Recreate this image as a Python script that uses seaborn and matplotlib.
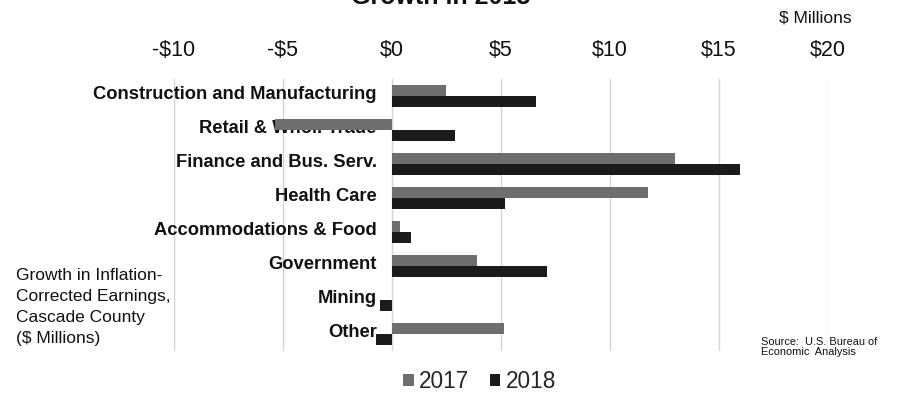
import numpy as np
import pandas as pd
import matplotlib
matplotlib.use("Agg")
import matplotlib.pyplot as plt
import seaborn as sns

categories = [
    "Construction and Manufacturing",
    "Retail & Whol. Trade",
    "Finance and Bus. Serv.",
    "Health Care",
    "Accommodations & Food",
    "Government",
    "Mining",
    "Other",
]
growth_2017 = [2.5, -5.35, 13.0, 11.75, 0.38, 3.9, 0.0, 5.15]
growth_2018 = [6.6, 2.9, 15.95, 5.2, 0.88, 7.1, -0.55, -0.72]
years = ["2017", "2018"]
x_ticks = [-10, -5, 0, 5, 10, 15, 20]
x_tick_labels = ["-$10", "-$5", "$0", "$5", "$10", "$15", "$20"]

df = pd.DataFrame({
    "category": categories * 2,
    "year": [years[0]] * len(categories) + [years[1]] * len(categories),
    "value": growth_2017 + growth_2018,
})

sns.set_theme(style="white")
plt.rcParams["font.family"] = ["Liberation Sans", "DejaVu Sans"]

fig = plt.figure(figsize=(9, 3.93), dpi=100)
ax = fig.add_axes([0.1933, 0.107, 0.7267, 0.692])

sns.barplot(
    data=df, x="value", y="category", hue="year", order=categories,
    hue_order=years, palette={"2017": "#6e6e6e", "2018": "#1b1b1b"},
    orient="h", width=0.63, ax=ax, legend=True, saturation=1,
    edgecolor="none", zorder=3,
)

ax.set_xlim(-10, 20)
ax.set_ylim(len(categories) - 0.5, -0.5)
ax.set_xticks(x_ticks)
ax.set_xticklabels(x_tick_labels, fontsize=15.5, color="#111111")
ax.xaxis.tick_top()
ax.tick_params(axis="x", length=0, pad=13)
ax.set_yticks([])
ax.set_xlabel("")
ax.set_ylabel("")
ax.grid(axis="x", color="#d4d4d4", linewidth=1, zorder=0)
for s in ax.spines.values():
    s.set_visible(False)

for i, name in enumerate(categories):
    ax.text(-0.7, i - 0.03, name, ha="right", va="center",
            fontsize=13.2, fontweight="bold", color="#111111", zorder=2)

# title is cropped at the top edge in the source image
fig.text(0.49, 0.99, "Growth in 2018", ha="center", va="baseline",
         fontsize=18, fontweight="bold", color="#111111")
fig.text(0.906, 0.955, "$ Millions", ha="center", va="center",
         fontsize=12.5, color="#111111")
fig.text(0.018, 0.2176, "Growth in Inflation-\nCorrected Earnings,\nCascade County\n($ Millions)",
         ha="left", va="center", fontsize=12.5, linespacing=1.5, color="#111111")
fig.text(0.846, 0.1158, "Source:  U.S. Bureau of\nEconomic  Analysis",
         ha="left", va="center", fontsize=7.9, linespacing=1.0, color="#111111")

handles, labels = ax.get_legend_handles_labels()
ax.legend_.remove()
fig.legend(handles, labels, loc="center", bbox_to_anchor=(0.533, 0.03),
           ncol=2, frameon=False, fontsize=16.3, handlelength=0.45,
           handleheight=0.45, handletextpad=0.25, columnspacing=0.9)

fig.savefig("out.png", dpi=100)
